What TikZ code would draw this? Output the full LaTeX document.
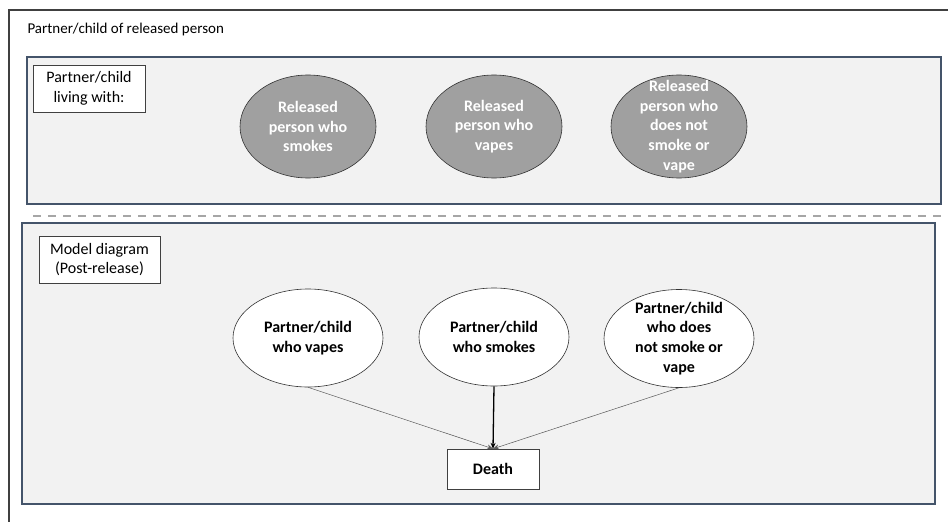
\documentclass[tikz,border=0pt]{standalone}
\usepackage{fontspec}
\setmainfont{Carlito}
\usetikzlibrary{shapes.geometric,arrows.meta}
\definecolor{panelgray}{HTML}{F2F2F2}
\definecolor{panelblue}{HTML}{44546A}
\definecolor{ovalgray}{HTML}{A0A0A0}
\definecolor{dashgray}{HTML}{A6A6A6}
\definecolor{linegray}{HTML}{595959}

\tikzset{
	panel/.style={draw=panelblue, fill=panelgray, line width=1.1pt},
	tag/.style={draw=black!75, fill=white, align=center, inner sep=0pt, minimum height=47pt},
	oval/.style={ellipse, draw=black!80, line width=0.6pt, inner sep=0pt},
	released/.style={oval, fill=ovalgray, minimum width=136pt, minimum height=103pt},
	member/.style={oval, fill=white, minimum width=150pt, minimum height=98pt},
	ovaltext/.style={align=center, font=\bfseries},
	flow/.style={-{Stealth[length=6pt,width=5pt]}, draw=linegray, line width=0.5pt},
}

\begin{document}
\fontsize{16}{19.8}\selectfont
\begin{tikzpicture}[x=1pt, y=-1pt]
			\clip (0,0) rectangle (948,522);
			\draw[black!75, line width=1.3pt] (9,540) -- (9,10) -- (960,10);
			\node[anchor=west, font=\fontsize{15}{18}\selectfont] (title) at (22,30) {Partner/child of released person};
			%
			\draw[panel] (27,57) rectangle (941,204);
			\node[tag, minimum width=112pt] (livewith) at (89,88.5) {Partner/child\\living with:};
			\node[released] (rsmoke)	at (308,126.5) {};
			\node[released] (rvape)		at (494,126.5) {};
			\node[released] (rnone)		at (679,126.5) {};
			\node[ovaltext, white] (rsmoketxt)	at (rsmoke)	{Released\\person who\\smokes};
			\node[ovaltext, white] (rvapetxt)	at (rvape)	{Released\\person who\\vapes};
			\node[ovaltext, white] (rnonetxt)	at (rnone)	{Released\\person who\\does not\\smoke or\\vape};
			%
			\draw[dashgray, line width=2pt, dash pattern=on 8pt off 7pt] (33,216) -- (948,216);
			%
			\draw[panel] (22,223) rectangle (935,504);
			\node[tag, minimum width=121pt] (model) at (99.5,259.5) {Model diagram\\(Post-release)};
			\node[member] (pvape)	at (308,338) {};
			\node[member] (psmoke)	at (494,337) {};
			\node[member] (pnone)	at (679,338.5) {};
			\node[ovaltext] (pvapetxt)	at (pvape)	{Partner/child\\who vapes};
			\node[ovaltext] (psmoketxt)	at (psmoke)	{Partner/child\\who smokes};
			\node[ovaltext] (pnonetxt)	at (pnone)	{Partner/child\\who does\\not smoke or\\vape};
			\node[tag, minimum width=92pt, minimum height=40pt, font=\bfseries] (death) at (493,469) {Death};
			%
			\draw[flow] (pvape.south) -- (death.north);
			\draw[flow, draw=black, line width=1.3pt] (psmoke.south) -- (death.north);
			\draw[flow] (pnone.south) -- (death.north);
		\end{tikzpicture}
\end{document}
